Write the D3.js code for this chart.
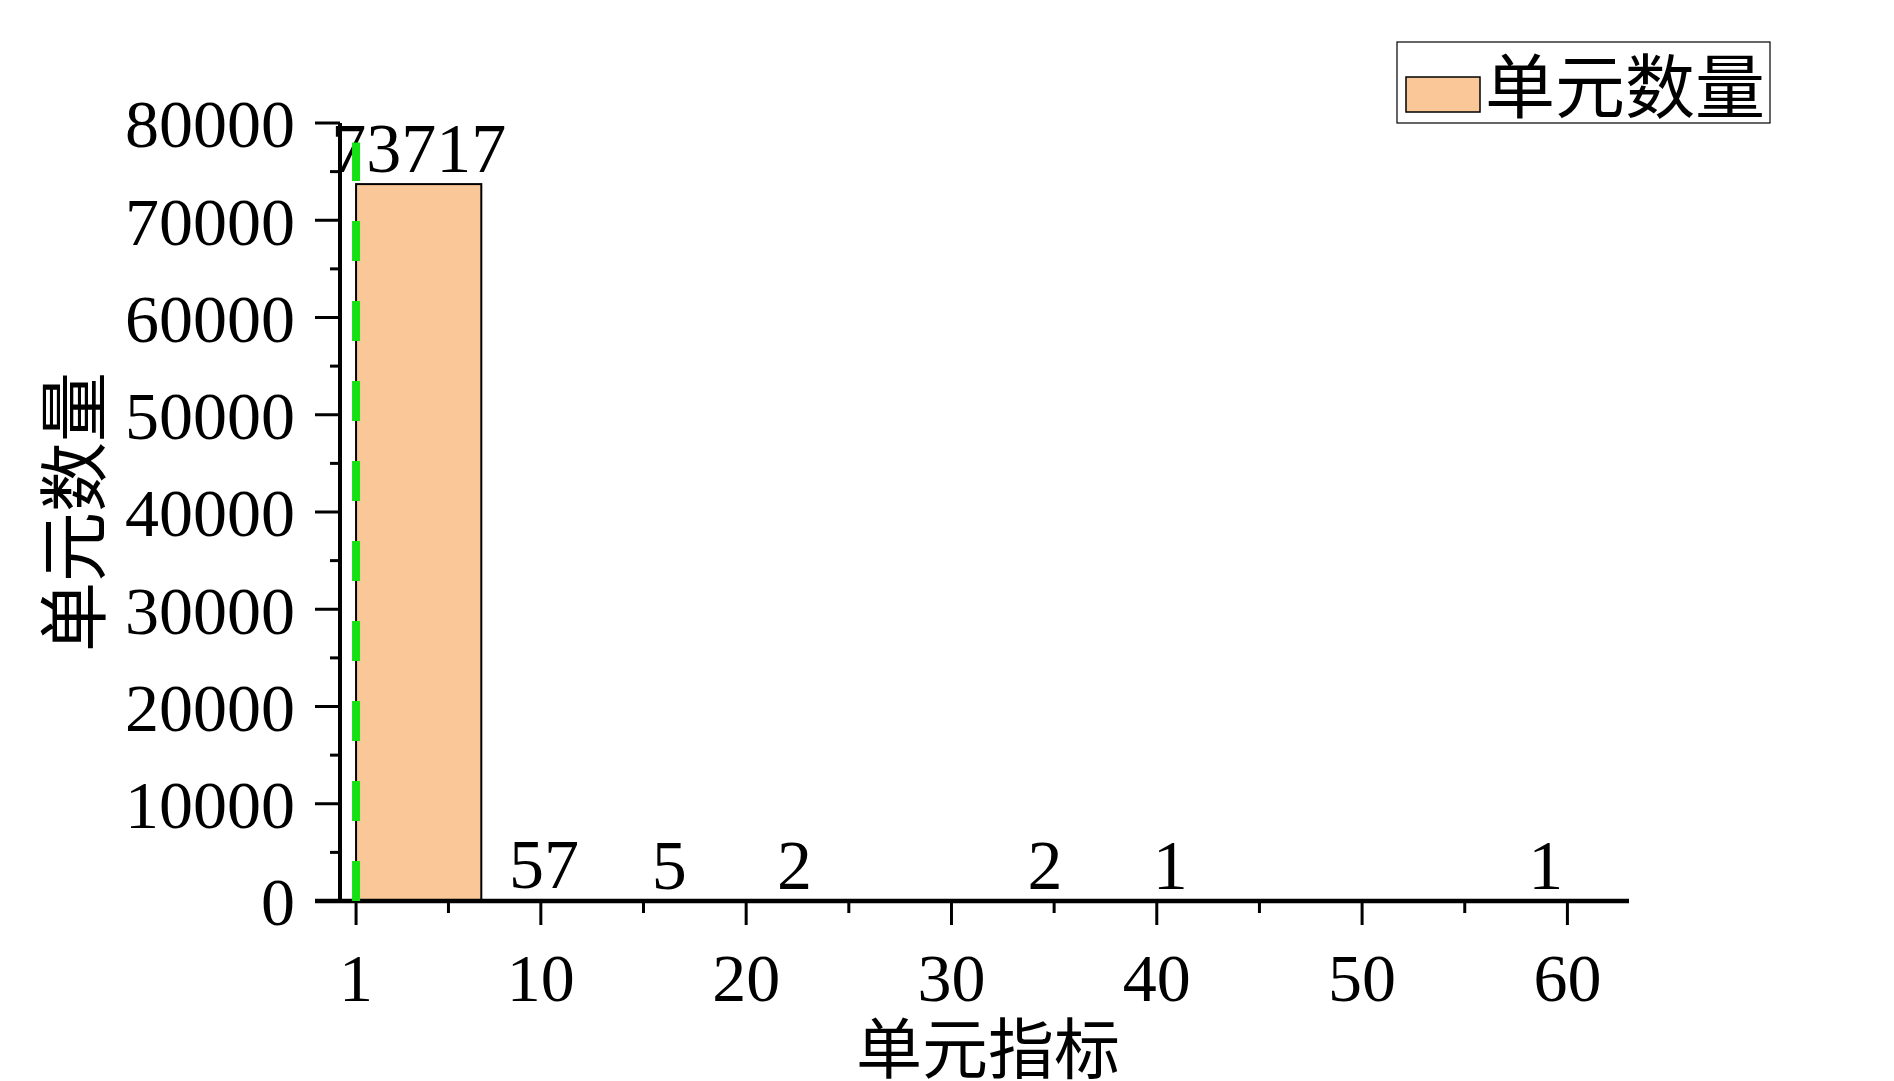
<!DOCTYPE html>
<html>
<head>
<meta charset="utf-8">
<script src="https://cdn.jsdelivr.net/npm/d3@7"></script>
<style>
  html, body { margin: 0; padding: 0; background: #fff; }
  svg { display: block; }
</style>
</head>
<body>
<svg id="chart" width="1894" height="1081"></svg>
<script>
// ---- data ----
const binLo  = [1, 7.1, 13.2, 19.3, 25.4, 31.5, 37.6, 43.7, 49.8, 55.9];
const binHi  = [7.1, 13.2, 19.3, 25.4, 31.5, 37.6, 43.7, 49.8, 55.9, 62.0];
const counts = [73717, 57, 5, 2, 0, 2, 1, 0, 0, 1];
const xTicks = [1, 10, 20, 30, 40, 50, 60];
const xMinorTicks = [5.5, 15, 25, 35, 45, 55];
const yTicks = [0, 10000, 20000, 30000, 40000, 50000, 60000, 70000, 80000];
const yMinorTicks = [5000, 15000, 25000, 35000, 45000, 55000, 65000, 75000];
const refLineX = [1];
const refLineY = [0, 78000];
const seriesName = "单元数量";
const xTitle = "单元指标";
const yTitle = "单元数量";

// ---- layout ----
const svg = d3.select("#chart");
const x = d3.scaleLinear().domain([-1, 63]).range([315, 1629]);
const y = d3.scaleLinear().domain([0, 80000]).range([901, 123]);
const barFill = "#fac898";
const green = "#14e014";
const numFont = "'Liberation Serif', 'Times New Roman', serif";
const cjkFont = "'Noto Sans CJK SC', sans-serif";

// bars
const bins = counts.map((c, i) => ({lo: binLo[i], hi: binHi[i], c}));
svg.append("g").selectAll("rect")
  .data(bins.filter(d => d.c > 0))
  .join("rect")
  .attr("x", d => x(d.lo))
  .attr("y", d => y(d.c))
  .attr("width", d => x(d.hi) - x(d.lo))
  .attr("height", d => y(0) - y(d.c))
  .attr("fill", barFill)
  .attr("stroke", "#000")
  .attr("stroke-width", 2);

// value labels
svg.append("g").selectAll("text")
  .data(bins.filter(d => d.c > 0))
  .join("text")
  .attr("x", d => x((d.lo + d.hi) / 2))
  .attr("y", d => y(d.c) - 12)
  .attr("text-anchor", "middle")
  .attr("font-family", numFont)
  .attr("font-size", 70)
  .attr("fill", "#000")
  .text(d => d.c);

// y axis minor
const yMinor = svg.append("g").attr("transform", `translate(${x(-1) + 25},0)`)
  .call(d3.axisLeft(y).offset(0).tickValues(yMinorTicks).tickSize(10).tickSizeOuter(0).tickFormat(""));
yMinor.select(".domain").remove();
yMinor.selectAll("line").attr("stroke", "#000").attr("stroke-width", 3);

// y axis major
const yAx = svg.append("g").attr("transform", `translate(${x(-1) + 25},0)`)
  .call(d3.axisLeft(y).offset(0).tickValues(yTicks).tickSize(25).tickSizeOuter(0).tickPadding(20).tickFormat(d3.format("d")));
yAx.select(".domain").attr("stroke", "#000").attr("stroke-width", 4);
yAx.selectAll("line").attr("stroke", "#000").attr("stroke-width", 3);
yAx.selectAll("text")
  .attr("font-family", numFont).attr("font-size", 68).attr("fill", "#000")
  .attr("dy", "0.36em");

// x axis minor
const xMinor = svg.append("g").attr("transform", `translate(0,${y(0)})`)
  .call(d3.axisBottom(x).offset(0).tickValues(xMinorTicks).tickSize(12).tickSizeOuter(0).tickFormat(""));
xMinor.select(".domain").remove();
xMinor.selectAll("line").attr("stroke", "#000").attr("stroke-width", 3);

// x axis major
const xAx = svg.append("g").attr("transform", `translate(0,${y(0)})`)
  .call(d3.axisBottom(x).offset(0).tickValues(xTicks).tickSize(24).tickSizeOuter(0).tickFormat(d3.format("d")));
xAx.select(".domain").attr("stroke", "#000").attr("stroke-width", 4.5);
xAx.selectAll("line").attr("stroke", "#000").attr("stroke-width", 3);
xAx.selectAll("text")
  .attr("font-family", numFont).attr("font-size", 68).attr("fill", "#000")
  .attr("y", 100).attr("dy", 0);

// green dashed reference line
svg.append("line")
  .attr("x1", x(refLineX[0])).attr("x2", x(refLineX[0]))
  .attr("y1", y(refLineY[0])).attr("y2", y(refLineY[1]))
  .attr("stroke", green).attr("stroke-width", 8)
  .attr("stroke-dasharray", "40 40");

// axis titles
svg.append("text")
  .attr("x", 988).attr("y", 1044)
  .attr("text-anchor", "middle").attr("dominant-baseline", "central")
  .attr("font-family", cjkFont).attr("font-size", 66).attr("fill", "#000")
  .text(xTitle);

svg.append("text")
  .attr("transform", "translate(69,512) rotate(-90)")
  .attr("text-anchor", "middle").attr("dominant-baseline", "central")
  .attr("font-family", cjkFont).attr("font-size", 70).attr("fill", "#000")
  .text(yTitle);

// legend
const lg = svg.append("g");
lg.append("rect").attr("x", 1397).attr("y", 42).attr("width", 373).attr("height", 81)
  .attr("fill", "#fff").attr("stroke", "#000").attr("stroke-width", 1.2);
lg.append("rect").attr("x", 1406).attr("y", 77).attr("width", 74).attr("height", 35)
  .attr("fill", barFill).attr("stroke", "#000").attr("stroke-width", 1.5);
lg.append("text").attr("x", 1485).attr("y", 82)
  .attr("dominant-baseline", "central")
  .attr("font-family", cjkFont).attr("font-size", 70).attr("fill", "#000")
  .text(seriesName);
</script>
</body>
</html>
